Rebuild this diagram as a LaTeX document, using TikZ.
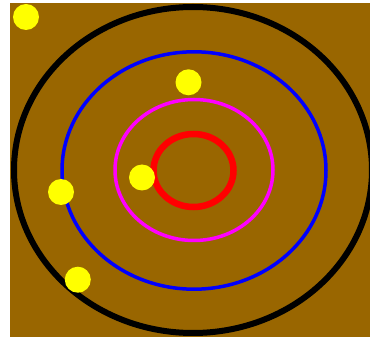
\documentclass[tikz,border=0pt]{standalone}
\definecolor{bgbrown}{RGB}{153,102,0}
\definecolor{dotyellow}{RGB}{255,255,0}
\definecolor{ringmag}{RGB}{255,0,255}
\begin{document}
\begin{tikzpicture}[x=1pt,y=-1pt,
  ring/.style={draw,fill=none},
  dot/.style={fill=dotyellow,draw=none}]
\useasboundingbox (0,0) rectangle (370,339);
\clip (0,0) rectangle (370,339);
\fill[bgbrown] (9.5,3.5) rectangle (370,337.5);
\draw[ring,black,line width=6pt] (193,170) ellipse [x radius=179, y radius=163];
\draw[ring,blue,line width=3.5pt] (194,170.5) ellipse [x radius=132, y radius=118.7];
\draw[ring,ringmag,line width=3.5pt] (194,170) ellipse [x radius=79, y radius=70.5];
\draw[ring,red,line width=6.5pt] (193.5,170.5) ellipse [x radius=40, y radius=36.5];
\fill[dot] (26,17) circle [radius=13];
\fill[dot] (188.5,82.3) circle [radius=13];
\fill[dot] (142,177.5) circle [radius=13];
\fill[dot] (61,192) circle [radius=13];
\fill[dot] (77.8,279.7) circle [radius=13];
\end{tikzpicture}
\end{document}
